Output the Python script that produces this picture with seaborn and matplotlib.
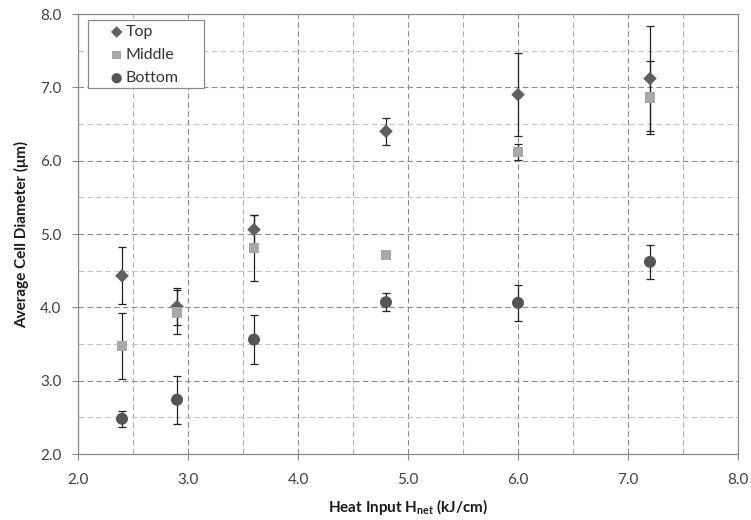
import numpy as np
import pandas as pd
import matplotlib
matplotlib.use("Agg")
import matplotlib.pyplot as plt
from matplotlib.ticker import MultipleLocator
from matplotlib.patches import Rectangle
import seaborn as sns

# ---- data ----
heat_input = [2.4, 2.9, 3.6, 4.8, 6.0, 7.2]
top_vals = [4.43, 4.01, 5.06, 6.40, 6.90, 7.12]
top_err = [0.39, 0.25, 0.20, 0.18, 0.57, 0.72]
middle_vals = [3.47, 3.93, 4.81, 4.71, 6.12, 6.86]
middle_err = [0.45, 0.30, 0.45, 0.00, 0.11, 0.50]
bottom_vals = [2.48, 2.74, 3.56, 4.07, 4.06, 4.62]
bottom_err = [0.11, 0.33, 0.33, 0.12, 0.25, 0.23]
series_names = ["Top", "Middle", "Bottom"]
x_ticks = [2.0, 3.0, 4.0, 5.0, 6.0, 7.0, 8.0]
y_ticks = [2.0, 3.0, 4.0, 5.0, 6.0, 7.0, 8.0]

sns.set_theme(style="white")
plt.rcParams["font.family"] = ["Lato", "DejaVu Sans"]
plt.rcParams["mathtext.fontset"] = "custom"
plt.rcParams["mathtext.rm"] = "Lato"
plt.rcParams["mathtext.bf"] = "Lato:bold"
plt.rcParams["mathtext.it"] = "Lato:italic"

df = pd.DataFrame({
    "x": heat_input * 3,
    "y": top_vals + middle_vals + bottom_vals,
    "err": top_err + middle_err + bottom_err,
    "series": [s for s in series_names for _ in heat_input],
})

colors = {"Top": "#5f5f5f", "Middle": "#a8a8a8", "Bottom": "#555555"}
markers = {"Top": "D", "Middle": "s", "Bottom": "o"}
sizes = {"Top": 48, "Middle": 55, "Bottom": 75}

fig = plt.figure(figsize=(7.51, 5.20), dpi=100)
ax = fig.add_axes([78 / 751, 1 - 454 / 520, 660 / 751, 440 / 520])

# grid
ax.set_xlim(2.0, 8.0)
ax.set_ylim(2.0, 8.0)
ax.xaxis.set_major_locator(MultipleLocator(1.0))
ax.xaxis.set_minor_locator(MultipleLocator(0.5))
ax.yaxis.set_major_locator(MultipleLocator(1.0))
ax.yaxis.set_minor_locator(MultipleLocator(0.5))
ax.grid(which="major", axis="both", color="#8c8c8c", linestyle=(0, (5, 3)), linewidth=0.8, zorder=0)
ax.grid(which="minor", axis="y", color="#c4c4c4", linestyle=(0, (5, 3)), linewidth=0.8, zorder=0)
ax.grid(which="minor", axis="x", color="#b0b0b0", linestyle=(0, (5, 3)), linewidth=0.8, zorder=0)
ax.set_axisbelow(True)

# error bars
for name in series_names:
    sub = df[df["series"] == name]
    ax.errorbar(sub["x"], sub["y"], yerr=sub["err"], fmt="none", ecolor="#222222",
                elinewidth=0.9, capsize=3.0, capthick=0.9, zorder=2)

# markers
for name in series_names:
    sub = df[df["series"] == name]
    sns.scatterplot(data=sub, x="x", y="y", marker=markers[name], color=colors[name],
                    s=sizes[name], edgecolor="none", linewidth=0, ax=ax, zorder=3,
                    label=name)

ax.set_xticks(x_ticks)
ax.set_yticks(y_ticks)
ax.set_xticklabels([f"{v:.1f}" for v in x_ticks])
ax.set_yticklabels([f"{v:.1f}" for v in y_ticks])
ax.tick_params(axis="both", which="major", labelsize=11, length=4, width=0.8,
               direction="out", bottom=True, left=True, color="#8a8a8a")
ax.tick_params(axis="x", which="major", pad=10)
ax.tick_params(axis="y", which="major", pad=8)
ax.tick_params(axis="both", which="minor", length=0)
for lab in ax.get_xticklabels() + ax.get_yticklabels():
    lab.set_color("#404040")

for sp in ax.spines.values():
    sp.set_color("#8a8a8a")
    sp.set_linewidth(0.9)

ax.set_xlabel(r"Heat Input H$_{\mathbf{net}}$ (kJ/cm)", fontsize=11, fontweight="bold",
              color="#1a1a1a", labelpad=7)
ax.set_ylabel("Average Cell Diameter (μm)", fontsize=11, fontweight="bold",
              color="#1a1a1a", labelpad=8)

# legend frame (Excel style, generous padding)
frame = Rectangle((0.0147, 0.8311), 0.1762, 0.1553, transform=ax.transAxes,
                  facecolor="white", edgecolor="#8a8a8a", linewidth=0.9,
                  zorder=4, clip_on=False)
ax.add_patch(frame)
leg = ax.legend(loc="upper left", bbox_to_anchor=(0.0465, 0.975), fontsize=11.5,
                frameon=False, handletextpad=0.05, handlelength=1.0, borderpad=0.0,
                labelspacing=0.56, borderaxespad=0, markerscale=0.85)
leg.set_zorder(5)
for t in leg.get_texts():
    t.set_color("#333333")

fig.savefig("out.png", dpi=100)
